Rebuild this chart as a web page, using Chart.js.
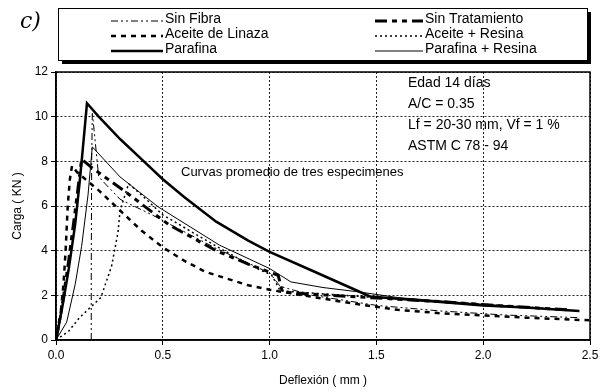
<!DOCTYPE html>
<html>
<head>
<meta charset="utf-8">
<script src="https://cdn.jsdelivr.net/npm/chart.js@4"></script>
<style>
  html, body { margin: 0; padding: 0; background: #fff; }
  #wrap { width: 602px; height: 392px; position: relative; }
</style>
</head>
<body>
<div id="wrap"><canvas id="chart" width="602" height="392"></canvas></div>
<script>
// load vs deflection curves
const sinFibraX = [0.165, 0.165, 0.167, 0.17, 0.2, 0.3, 0.45, 0.75, 1.0, 1.05, 1.2, 1.5, 1.8, 2.1, 2.45];
const sinFibraY = [0, 3, 8, 10.2, 7.3, 6.3, 5.6, 4.1, 3.0, 2.4, 2.0, 1.55, 1.3, 1.12, 1.0];

const sinTratX = [0, 0.03, 0.06, 0.09, 0.12, 0.17, 0.33, 0.53, 0.75, 0.9, 1.04, 1.06, 1.2, 1.5, 1.8, 2.1, 2.4];
const sinTratY = [0, 1.6, 3.6, 5.8, 8.1, 7.7, 6.6, 5.15, 4.0, 3.4, 2.9, 2.15, 2.05, 1.88, 1.72, 1.52, 1.35];

const linazaX = [0, 0.02, 0.035, 0.045, 0.055, 0.065, 0.075, 0.1, 0.2, 0.3, 0.4, 0.5, 0.6, 0.7, 0.8, 0.9, 1.0, 1.2, 1.4, 1.6, 1.8, 2.0, 2.2, 2.5];
const linazaY = [0, 1.0, 2.5, 4.0, 6.0, 7.2, 7.8, 7.5, 6.7, 5.8, 4.9, 4.15, 3.55, 3.05, 2.75, 2.45, 2.25, 1.93, 1.62, 1.35, 1.2, 1.1, 1.0, 0.88];

const aceiteResinaX = [0, 0.06, 0.11, 0.21, 0.26, 0.29, 0.3, 0.34, 0.4, 0.5, 0.75, 0.92, 1.01, 1.05, 1.5, 2.0, 2.4];
const aceiteResinaY = [0, 0.4, 1.0, 1.9, 3.3, 4.8, 5.8, 7.0, 6.5, 5.6, 4.2, 3.3, 2.9, 2.2, 1.9, 1.6, 1.35];

const parafinaX = [0, 0.03, 0.06, 0.09, 0.11, 0.125, 0.145, 0.2, 0.3, 0.4, 0.5, 0.6, 0.75, 0.9, 1.0, 1.2, 1.4, 1.47, 1.6, 1.8, 2.0, 2.2, 2.45];
const parafinaY = [0, 1.5, 3.2, 5.2, 7.0, 8.5, 10.6, 10.0, 9.0, 8.1, 7.2, 6.4, 5.3, 4.45, 3.95, 3.1, 2.25, 1.95, 1.85, 1.7, 1.55, 1.45, 1.3];

const parResinaX = [0, 0.05, 0.09, 0.12, 0.15, 0.17, 0.3, 0.48, 0.765, 1.0, 1.05, 1.1, 1.25, 1.42, 1.6, 2.0, 2.45];
const parResinaY = [0, 0.8, 2.5, 4.2, 6.5, 8.65, 7.3, 5.95, 4.25, 3.2, 2.9, 2.6, 2.35, 2.15, 1.9, 1.6, 1.3];

const xTicks = [0, 0.5, 1.0, 1.5, 2.0, 2.5];
const yTicks = [0, 2, 4, 6, 8, 10, 12];

const notes = ['Edad 14 días', 'A/C = 0.35', 'Lf = 20-30 mm, Vf = 1 %', 'ASTM C 78 - 94'];
const subtitle = 'Curvas promedio de tres especimenes';

const FONT = "'Liberation Sans', Arial, sans-serif";

function pts(xs, ys) {
    return xs.map((x, i) => ({ x: x, y: ys[i] }));
}

const series = [
    { label: 'Sin Fibra', data: pts(sinFibraX, sinFibraY), width: 1, dash: [7, 3, 2, 3, 2, 3] },
    { label: 'Sin Tratamiento', data: pts(sinTratX, sinTratY), width: 3, dash: [12, 5, 5, 5, 5, 5] },
    { label: 'Aceite de Linaza', data: pts(linazaX, linazaY), width: 2.5, dash: [5, 5] },
    { label: 'Aceite + Resina', data: pts(aceiteResinaX, aceiteResinaY), width: 1.5, dash: [2, 3] },
    { label: 'Parafina', data: pts(parafinaX, parafinaY), width: 2.5, dash: [] },
    { label: 'Parafina + Resina', data: pts(parResinaX, parResinaY), width: 1, dash: [] }
];

// legend box, frame, notes and the "c)" mark
const decorPlugin = {
    id: 'decor',
    afterDraw(chart) {
        const ctx = chart.ctx;
        const a = chart.chartArea;
        ctx.save();
        // plot frame
        ctx.strokeStyle = '#000';
        ctx.lineWidth = 1.5;
        ctx.setLineDash([]);
        ctx.strokeRect(a.left, a.top, a.right - a.left, a.bottom - a.top);

        // notes
        ctx.fillStyle = '#000';
        ctx.font = '14px ' + FONT;
        ctx.textBaseline = 'middle';
        ctx.textAlign = 'left';
        notes.forEach((t, i) => ctx.fillText(t, 408, 83 + i * 21));
        ctx.font = '13px ' + FONT;
        ctx.fillText(subtitle, 181, 172);

        // legend box with shadow
        const bx = 58, by = 8, bw = 529, bh = 52;
        ctx.fillStyle = '#000';
        ctx.fillRect(bx + 4, by + 4, bw, bh);
        ctx.fillStyle = '#fff';
        ctx.fillRect(bx, by, bw, bh);
        ctx.strokeStyle = '#000';
        ctx.lineWidth = 1;
        ctx.strokeRect(bx + 0.5, by + 0.5, bw, bh);

        const cols = [{ s: 111, e: 163 }, { s: 375, e: 423 }];
        const rows = [19, 34, 49];
        series.forEach((sr, i) => {
            const c = cols[i % 2], ry = rows[Math.floor(i / 2)];
            ctx.beginPath();
            ctx.lineWidth = sr.width;
            ctx.setLineDash(sr.dash);
            ctx.moveTo(c.s, ry + 2);
            ctx.lineTo(c.e, ry + 2);
            ctx.stroke();
            ctx.setLineDash([]);
            ctx.fillStyle = '#000';
            ctx.font = '14px ' + FONT;
            ctx.fillText(sr.label, c.e + 2, ry);
        });

        // panel letter
        ctx.font = 'italic 22px "DejaVu Serif", serif';
        ctx.fillText('c)', 20, 22);
        ctx.restore();
    }
};

new Chart(document.getElementById('chart').getContext('2d'), {
    type: 'scatter',
    data: {
        datasets: series.map(s => ({
            label: s.label,
            data: s.data,
            showLine: true,
            borderColor: '#000',
            backgroundColor: '#000',
            borderWidth: s.width,
            borderDash: s.dash,
            pointRadius: 0,
            tension: 0
        }))
    },
    options: {
        responsive: false,
        animation: false,
        layout: { padding: { top: 72, right: 12, left: 6, bottom: 0 } },
        scales: {
            x: {
                type: 'linear',
                min: 0,
                max: 2.5,
                afterBuildTicks: s => { s.ticks = xTicks.map(v => ({ value: v })); },
                afterFit: s => { s.height = 52; },
                ticks: { color: '#000', font: { size: 12, family: FONT }, padding: 3, callback: v => v.toFixed(1), maxRotation: 0 },
                grid: { color: '#222', lineWidth: 1, tickLength: 5, tickColor: '#000', tickBorderDash: [] },
                border: { display: true, color: '#000', width: 1.5, dash: [2, 2] },
                title: { display: true, text: 'Deflexión ( mm )', color: '#000', font: { size: 12, family: FONT } }
            },
            y: {
                min: 0,
                max: 12,
                afterBuildTicks: s => { s.ticks = yTicks.map(v => ({ value: v })); },
                afterFit: s => { s.width = 50; },
                ticks: { color: '#000', font: { size: 12, family: FONT }, padding: 3 },
                grid: { color: '#222', lineWidth: 1, tickLength: 5, tickColor: '#000', tickBorderDash: [] },
                border: { display: true, color: '#000', width: 1.5, dash: [2, 2] },
                title: { display: true, text: 'Carga ( KN )', color: '#000', font: { size: 12, family: FONT } }
            }
        },
        plugins: {
            legend: { display: false },
            tooltip: { enabled: false }
        }
    },
    plugins: [decorPlugin]
});
</script>
</body>
</html>
